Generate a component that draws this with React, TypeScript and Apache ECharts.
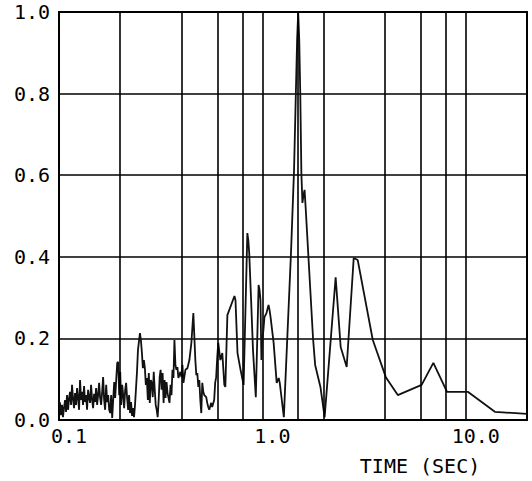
import React, { useEffect, useRef } from "react";
import * as echarts from "echarts";

// time (s) and response values
const times: number[] = [
  0.1, 0.1011, 0.1023, 0.1035, 0.1046, 0.1058, 0.1071, 0.1083, 0.1095, 0.1108,
  0.1121, 0.1133, 0.1146, 0.1159, 0.1173, 0.1186, 0.1199, 0.1213, 0.1227, 0.1241,
  0.1255, 0.1269, 0.1284, 0.1298, 0.1313, 0.1328, 0.1343, 0.1359, 0.1374, 0.139,
  0.1406, 0.1422, 0.1438, 0.1455, 0.1471, 0.1488, 0.1505, 0.1522, 0.154, 0.1557,
  0.1575, 0.1593, 0.1611, 0.163, 0.1648, 0.1667, 0.1686, 0.1706, 0.1725, 0.1745,
  0.1765, 0.1785, 0.1805, 0.1826, 0.1847, 0.1868, 0.1889, 0.1911, 0.1933, 0.1955,
  0.1977, 0.2, 0.2022, 0.2045, 0.2068, 0.2091, 0.2115, 0.2138, 0.2162, 0.2187,
  0.2211, 0.2236, 0.2261, 0.2287, 0.2312, 0.2338, 0.2365, 0.2418, 0.2445, 0.25,
  0.2528, 0.2557, 0.2585, 0.2614, 0.2644, 0.2673, 0.2703, 0.2734, 0.2764, 0.2795,
  0.2827, 0.2858, 0.289, 0.2923, 0.2956, 0.2989, 0.3022, 0.3056, 0.3091, 0.3125,
  0.316, 0.3196, 0.3232, 0.3268, 0.3305, 0.3342, 0.3379, 0.3417, 0.3494, 0.3534,
  0.3573, 0.3613, 0.3654, 0.3695, 0.3736, 0.3778, 0.3821, 0.3864, 0.3951, 0.4,
  0.4045, 0.4091, 0.4184, 0.4279, 0.4376, 0.4475, 0.4577, 0.4681, 0.4734, 0.4787,
  0.4842, 0.4896, 0.4952, 0.5007, 0.5064, 0.5121, 0.5179, 0.5296, 0.5356, 0.5417,
  0.5478, 0.5602, 0.5666, 0.5794, 0.5859, 0.5926, 0.6, 0.6069, 0.6211, 0.6353,
  0.65, 0.6575, 0.6728, 0.7289, 0.7374, 0.7545, 0.781, 0.8085, 0.8435, 0.8525,
  0.8616, 0.8801, 0.899, 0.9281, 0.9581, 0.9683, 0.9787, 0.9891, 1.0, 1.0117,
  1.0235, 1.0474, 1.0719, 1.0844, 1.097, 1.1358, 1.1758, 1.2033, 1.2173, 1.2459,
  1.2749, 1.3823, 1.431, 1.4815, 1.5, 1.518, 1.5364, 1.5549, 1.5736, 1.5926,
  1.6118, 1.6313, 1.7739, 1.8171, 1.9292, 2.0229, 2.292, 2.426, 2.597, 2.812,
  2.943, 3.49, 4.045, 4.631, 6.067, 6.928, 8.09, 10.23, 13.9, 20,
];

const values: number[] = [
  0.044, 0.042, 0.012, 0.037, 0.007, 0.029, 0.049, 0.02, 0.061, 0.025,
  0.054, 0.069, 0.037, 0.086, 0.049, 0.029, 0.066, 0.037, 0.078, 0.054,
  0.025, 0.098, 0.049, 0.069, 0.037, 0.083, 0.044, 0.061, 0.025, 0.074,
  0.054, 0.042, 0.086, 0.049, 0.029, 0.064, 0.044, 0.078, 0.037, 0.061,
  0.091, 0.054, 0.037, 0.069, 0.105, 0.049, 0.025, 0.086, 0.044, 0.061,
  0.025, 0.017, 0.061, 0.005, 0.049, 0.093, 0.054, 0.098, 0.14, 0.142,
  0.061, 0.118, 0.037, 0.086, 0.061, 0.029, 0.074, 0.091, 0.054, 0.025,
  0.061, 0.017, 0.044, 0.01, 0.029, 0.007, 0.037, 0.118, 0.172, 0.213,
  0.196, 0.164, 0.127, 0.147, 0.127, 0.086, 0.103, 0.049, 0.115, 0.042,
  0.098, 0.091, 0.056, 0.118, 0.074, 0.037, 0.025, 0.007, 0.049, 0.105,
  0.123, 0.074, 0.115, 0.042, 0.098, 0.054, 0.093, 0.066, 0.042, 0.086,
  0.061, 0.123, 0.103, 0.196, 0.135, 0.123, 0.13, 0.103, 0.118, 0.105,
  0.135, 0.091, 0.123, 0.127, 0.147, 0.189, 0.262, 0.147, 0.11, 0.115,
  0.081, 0.098, 0.049, 0.017, 0.091, 0.069, 0.061, 0.056, 0.042, 0.032,
  0.025, 0.042, 0.032, 0.049, 0.091, 0.105, 0.154, 0.189, 0.147, 0.164,
  0.086, 0.081, 0.257, 0.304, 0.294, 0.164, 0.123, 0.086, 0.458, 0.441,
  0.409, 0.294, 0.172, 0.056, 0.331, 0.319, 0.294, 0.147, 0.196, 0.221,
  0.252, 0.262, 0.282, 0.27, 0.252, 0.189, 0.091, 0.103, 0.091, 0.049,
  0.007, 0.409, 0.613, 0.931, 0.998, 0.931, 0.792, 0.605, 0.532, 0.551,
  0.564, 0.522, 0.201, 0.135, 0.081, 0.007, 0.35, 0.179, 0.13, 0.397,
  0.392, 0.196, 0.105, 0.061, 0.086, 0.14, 0.069, 0.069, 0.02, 0.015,
];

// extra vertical grid lines of the log graph paper
const gridTimes: number[] = [0.2, 0.4, 0.6, 0.8, 1.5, 2, 4, 6, 8];
const xMin = 0.1;
const xMax = 20;
const yMin = 0;
const yMax = 1.0;
const yStep = 0.2;
const xAxisTitle = "TIME (SEC)";

const FONT = "'DejaVu Sans Mono', 'Liberation Mono', monospace";

export default function App() {
  const ref = useRef<HTMLDivElement>(null);
  useEffect(() => {
    if (!ref.current) return;
    const chart = echarts.init(ref.current, undefined, { renderer: "svg" });
    const data = times.map((t, i) => [t, values[i]]);
    chart.setOption({
      animation: false,
      backgroundColor: "#ffffff",
      grid: {
        left: 59,
        top: 12,
        width: 468,
        height: 408,
        show: true,
        borderColor: "#000",
        borderWidth: 2,
        backgroundColor: "transparent",
      },
      xAxis: {
        type: "log",
        logBase: 10,
        min: xMin,
        max: xMax,
        axisLine: { show: true, lineStyle: { color: "#000", width: 2 } },
        axisTick: { show: false },
        splitLine: { show: true, lineStyle: { color: "#000", width: 1.6 } },
        axisLabel: {
          color: "#000",
          fontFamily: FONT,
          fontSize: 20,
          margin: 6,
          padding: [0, 0, 0, 20],
          formatter: (v: number) => {
            const l = Math.log10(v);
            return Math.abs(l - Math.round(l)) < 1e-6 ? v.toFixed(1) : "";
          },
        },
      },
      yAxis: {
        type: "value",
        min: yMin,
        max: yMax,
        interval: yStep,
        axisLine: { show: true, lineStyle: { color: "#000", width: 2 } },
        axisTick: { show: false },
        splitLine: { show: true, lineStyle: { color: "#000", width: 1.6 } },
        axisLabel: {
          color: "#000",
          fontFamily: FONT,
          fontSize: 20,
          margin: 9,
          formatter: (v: number) => v.toFixed(1),
        },
      },
      graphic: [
        {
          type: "text",
          x: 420,
          y: 466,
          style: {
            text: xAxisTitle,
            font: `20px ${FONT}`,
            fill: "#000",
            align: "center",
            verticalAlign: "middle",
          },
        },
      ],
      series: [
        {
          type: "line",
          data,
          showSymbol: false,
          symbol: "none",
          lineStyle: { color: "#111", width: 1.8 },
          markLine: {
            silent: true,
            symbol: "none",
            label: { show: false },
            lineStyle: { color: "#000", width: 1.6, type: "solid" },
            data: gridTimes.map((t) => ({ xAxis: t })),
          },
        },
      ],
    });
    return () => chart.dispose();
  }, []);
  return (
    <div
      ref={ref}
      style={{ position: "absolute", left: 0, top: 0, width: 532, height: 481 }}
    />
  );
}
